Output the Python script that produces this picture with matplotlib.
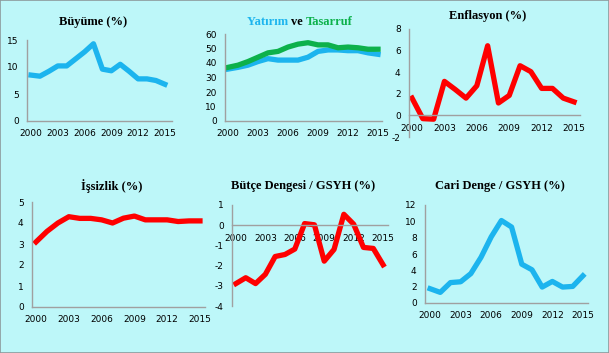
import numpy as np
import matplotlib
matplotlib.use("Agg")
import matplotlib.pyplot as plt
from matplotlib.patches import Rectangle
from matplotlib.transforms import offset_copy

plt.rcParams["axes.unicode_minus"] = False

years = np.arange(2000, 2016)
xticks = [2000, 2003, 2006, 2009, 2012, 2015]

buyume = [8.5, 8.3, 9.2, 10.2, 10.2, 11.5, 12.8, 14.3, 9.6, 9.3, 10.5, 9.2, 7.8, 7.8, 7.5, 6.8]
yatirim = [35.8, 37, 38.5, 41, 43, 42, 42, 42, 44, 48, 49, 49, 48.5, 48.5, 47, 46]
tasarruf = [37, 38.5, 41, 44, 47, 48, 51, 53, 54, 52.5, 52.5, 50.5, 51, 50.5, 49.5, 49.5]
enflasyon = [1.6, -0.3, -0.35, 3.15, 2.4, 1.6, 2.75, 6.45, 1.15, 1.85, 4.6, 4.05, 2.5, 2.5, 1.6, 1.25]
issizlik = [3.1, 3.6, 4.0, 4.3, 4.22, 4.22, 4.15, 4.0, 4.23, 4.33, 4.15, 4.15, 4.15, 4.07, 4.1, 4.1]
butce = [-2.89, -2.6, -2.89, -2.43, -1.55, -1.45, -1.18, 0.08, 0.02, -1.78, -1.2, 0.54, 0.05, -1.1, -1.15, -1.96]
cari = [1.75, 1.3, 2.5, 2.6, 3.6, 5.6, 8.1, 10.1, 9.3, 4.75, 4.07, 1.95, 2.64, 1.95, 2.03, 3.33]

BG = "#BDF7F9"
BLUE = "#1CB4EE"
RED = "#FF0000"
GREEN = "#0DB14B"
GRAY = "#A0A0A0"
W, H = 609, 353

fig = plt.figure(figsize=(W / 100, H / 100), dpi=100, facecolor=BG)


def panel(l, t, r, b, xlim, ylim, yticks, zero_axis=False):
    ax = fig.add_axes([l / W, 1 - b / H, (r - l) / W, (b - t) / H])
    ax.set_facecolor("none")
    ax.set_xlim(xlim)
    ax.set_ylim(ylim)
    ax.set_xticks(xticks)
    ax.set_yticks(yticks)
    for s in ["top", "right"]:
        ax.spines[s].set_visible(False)
    for s in ["left", "bottom"]:
        ax.spines[s].set_color(GRAY)
        ax.spines[s].set_linewidth(1.0)
    if zero_axis:
        ax.spines["bottom"].set_position(("data", 0))
    ax.tick_params(length=0, labelsize=6.5, pad=6)
    return ax


fs = dict(family="Liberation Serif", weight="bold", fontsize=9, va="center")


def title(x, y, text, **kw):
    fig.text(x / W, 1 - y / H, text, ha="center", **fs, **kw)


LW = 3.8

# Buyume
ax = panel(27, 40, 172, 121, (1999.55, 2015.8), (0, 15), [0, 5, 10, 15])
ax.plot(years, buyume, color=BLUE, lw=LW)
title(93, 22, "Büyüme (%)")

# Yatirim ve Tasarruf
ax = panel(225, 34, 382, 121, (1999.7, 2015.4), (0, 60), [0, 10, 20, 30, 40, 50, 60])
ax.plot(years, yatirim, color=BLUE, lw=LW)
ax.plot(years, tasarruf, color=GREEN, lw=LW)
renderer = fig.canvas.get_renderer()
parts = [("Yatırım ", BLUE), ("ve ", "black"), ("Tasarruf", GREEN)]
texts = []
for s, c in parts:
    texts.append(fig.text(0, 1 - 22 / H, s, color=c, ha="left", **fs))
widths = [t.get_window_extent(renderer).width for t in texts]
x = 300 - sum(widths) / 2
for t, w in zip(texts, widths):
    t.set_x(x / W)
    x += w

# Enflasyon
ax = panel(409, 29, 580, 137, (1999.72, 2015.55), (-2, 8), [-2, 0, 2, 4, 6, 8], zero_axis=True)
ax.plot(years, enflasyon, color=RED, lw=LW)
title(488, 16, "Enflasyon (%)")

# Issizlik
ax = panel(32, 202, 205, 307, (1999.63, 2015.46), (0, 5), [0, 1, 2, 3, 4, 5])
ax.plot(years, issizlik, color=RED, lw=LW)
title(112, 186, "İşsizlik (%)")

# Butce Dengesi
ax = panel(232, 205, 388, 306, (1999.6, 2015.5), (-4, 1), [-4, -3, -2, -1, 0, 1], zero_axis=True)
ax.plot(years, butce, color=RED, lw=LW)
title(303, 186, "Bütçe Dengesi / GSYH (%)")

# Cari Denge
ax = panel(425, 205, 588, 303, (1999.5, 2015.5), (0, 12), [0, 2, 4, 6, 8, 10, 12])
ax.plot(years, cari, color=BLUE, lw=LW)
title(500, 186, "Cari Denge / GSYH (%)")

fig.patches.append(Rectangle((0, 0), 1, 1, transform=fig.transFigure, fill=False,
                             edgecolor="#8C9A9C", lw=1.2))

fig.savefig("out.png", dpi=100, facecolor=BG)
